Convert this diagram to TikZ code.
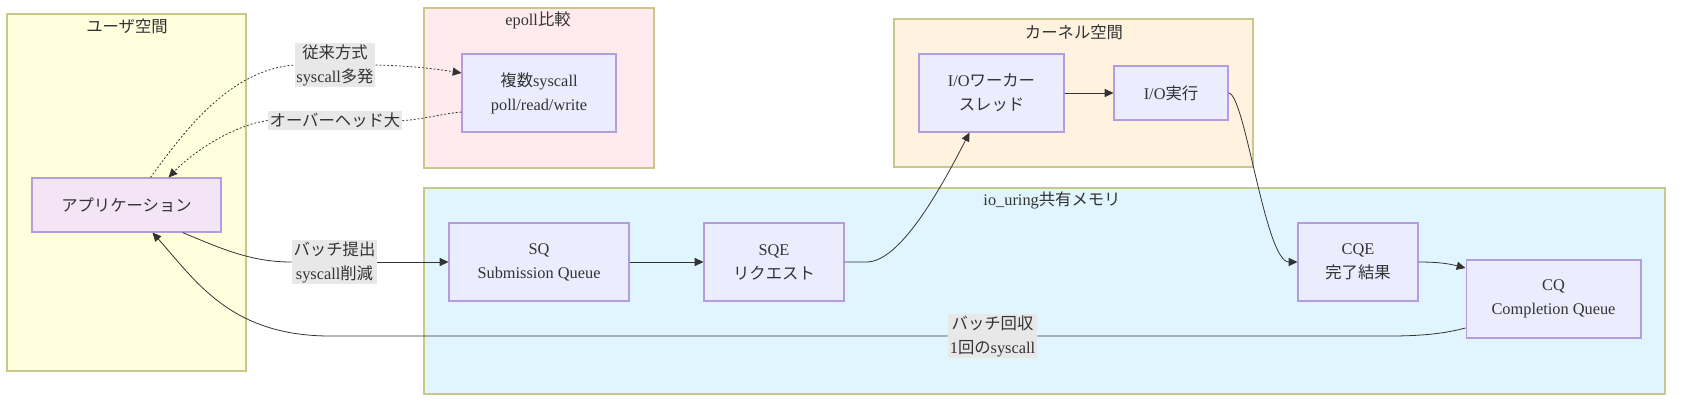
\documentclass[tikz,border=0pt]{standalone}
\usepackage{fontspec}
\setmainfont{Liberation Serif}
\newfontfamily\jpfont{Noto Sans CJK JP}
\newcommand\ja[1]{{\jpfont #1}}
\usetikzlibrary{arrows.meta,calc,fit}
\definecolor{txt}{HTML}{333333}
\definecolor{clborder}{HTML}{C9C88A}
\definecolor{boxborder}{HTML}{B39DDF}
\definecolor{boxfill}{HTML}{ECECFF}
\definecolor{appfill}{HTML}{F3E5F5}
\definecolor{userfill}{HTML}{FFFFDE}
\definecolor{epollfill}{HTML}{FFEBEE}
\definecolor{kernfill}{HTML}{FFF3E0}
\definecolor{uringfill}{HTML}{E1F5FE}
\definecolor{lblfill}{HTML}{E8E8E8}
\begin{document}
\begin{tikzpicture}[x=0.02cm,y=-0.02cm,>={Triangle[length=5pt,width=4.6pt]},
  every node/.style={font=\fontsize{9.3}{13.66}\selectfont,text=txt},
  cluster/.style={draw=clborder,line width=0.6pt,inner sep=0pt},
  box/.style={draw=boxborder,fill=boxfill,line width=0.6pt,align=center,inner sep=0pt},
  lbl/.style={fill=lblfill,align=center,inner sep=1pt},
  flow/.style={draw=txt,line width=0.45pt},
  call/.style={flow,dash pattern=on 1.1pt off 1.1pt}]
  \useasboundingbox (0,0) rectangle (1691,403);

  % Sous-graphes
  \node[cluster,fill=userfill,fit={(7,14) (246,371)}] (user) {};
  \node[cluster,fill=epollfill,fit={(424,8) (654,168)}] (epoll) {};
  \node[cluster,fill=kernfill,fit={(894,19) (1253,167)}] (kernel) {};
  \node[cluster,fill=uringfill,fit={(424,188) (1665,394)}] (uring) {};
  \node (userT) at (127,26) {\ja{ユーザ空間}};
  \node (epollT) at (538,20) {epoll\ja{比較}};
  \node (kernelT) at (1074,32) {\ja{カーネル空間}};
  \node (uringT) at (1052,200) {io\_uring\ja{共有メモリ}};

  % Noeuds
  \node[box,fill=appfill,minimum width=3.78cm,minimum height=1.08cm] (app) at (126.5,205) {\ja{アプリケーション}};
  \node[box,minimum width=3.08cm,minimum height=1.56cm] (multi) at (539,93) {\ja{複数}syscall\\poll/read/write};
  \node[box,minimum width=2.9cm,minimum height=1.56cm] (worker) at (991.5,93) {I/O\ja{ワーカー}\\\ja{スレッド}};
  \node[box,minimum width=2.28cm,minimum height=1.08cm] (ioexec) at (1171,93) {I/O\ja{実行}};
  \node[box,minimum width=3.6cm,minimum height=1.56cm] (sq) at (539,262) {SQ\\Submission Queue};
  \node[box,minimum width=2.8cm,minimum height=1.56cm] (sqe) at (774,262) {SQE\\\ja{リクエスト}};
  \node[box,minimum width=2.4cm,minimum height=1.56cm] (cqe) at (1358,262) {CQE\\\ja{完了結果}};
  \node[box,minimum width=3.5cm,minimum height=1.56cm] (cq) at (1553.5,299) {CQ\\Completion Queue};

  % Etiquettes
  \node[lbl] (lblOld) at (335,65) {\ja{従来方式}\\syscall\ja{多発}};
  \node[lbl] (lblOver) at (335,120.5) {\ja{オーバーヘッド大}};
  \node[lbl] (lblBatch) at (334.5,262) {\ja{バッチ提出}\\syscall\ja{削減}};
  \node[lbl] (lblReap) at (992.5,336) {\ja{バッチ回収}\\1\ja{回の}syscall};

  % Ancienne methode (epoll)
  \draw[call] ($(app.north)+(24,0)$) .. controls (185,130) and (230,70) .. (lblOld.west);
  \draw[call,->] (lblOld.east) .. controls (410,66) and (430,68) .. ($(multi.west)+(0,-20)$);
  \draw[call] ($(multi.west)+(0,19)$) .. controls (440,114) and (420,120) .. (lblOver.east);
  \draw[call,->] (lblOver.west) .. controls (235,125) and (195,150) .. ($(app.north)+(42,0)$);

  % io_uring
  \draw[flow] ($(app.south)+(56,0)$) .. controls (220,248) and (250,262) .. (lblBatch.west);
  \draw[flow,->] (lblBatch.east) -- (sq.west);
  \draw[flow,->] (sq) -- (sqe);
  \draw[flow,->] (sqe.east) -- ++(22,0) .. controls (900,262) and (940,190) .. ($(worker.south)+(-22,0)$);
  \draw[flow,->] (worker) -- (ioexec);
  \draw[flow,->] (ioexec.east) .. controls (1245,93) and (1265,262) .. (cqe.west);
  \draw[flow,->] (cqe.east) .. controls (1440,262) and (1450,264) .. ($(cq.west)+(0,-31)$);
  \draw[flow] ($(cq.west)+(0,29)$) .. controls (1450,332) and (1430,336) .. (1390,336) -- (lblReap.east);
  \draw[flow,->] (lblReap.west) -- (330,336) .. controls (230,336) and (195,280) .. ($(app.south)+(26,0)$);
\end{tikzpicture}
\end{document}
